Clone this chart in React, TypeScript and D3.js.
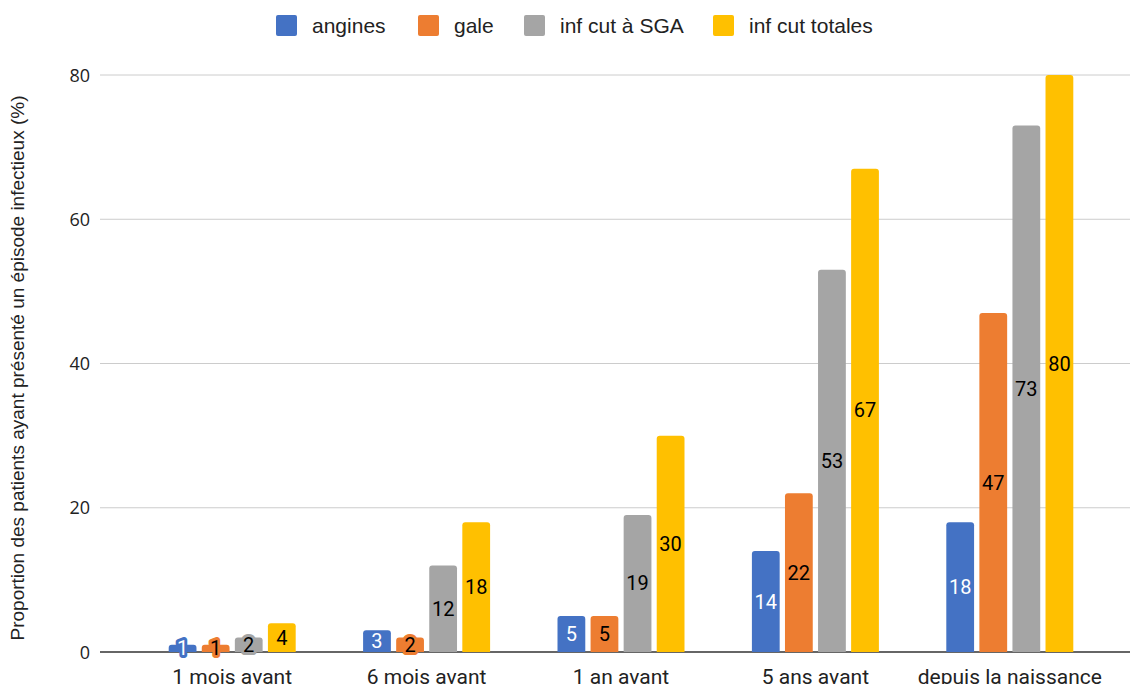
import React from "react";
import * as d3 from "d3";

const categories = ["1 mois avant", "6 mois avant", "1 an avant", "5 ans avant", "depuis la naissance"];
const seriesNames = ["angines", "gale", "inf cut à SGA", "inf cut totales"];
const angines = [1, 3, 5, 14, 18];
const gale = [1, 2, 5, 22, 47];
const infCutSGA = [2, 12, 19, 53, 73];
const infCutTotales = [4, 18, 30, 67, 80];
const yTicks = [0, 20, 40, 60, 80];
const colors = ["#4472c4", "#ed7d31", "#a5a5a5", "#ffc000"];
const labelColors = ["#ffffff", "#000000", "#000000", "#000000"];
const legendX = [276, 418, 524, 713];

const W = 1130, H = 684;

export default function App() {
  const series = [angines, gale, infCutSGA, infCutTotales];
  const x = d3.scaleBand<string>().domain(categories).range([135, 1107]).paddingInner(0).paddingOuter(0);
  const y = d3.scaleLinear().domain([0, 80]).range([652, 75]);
  const inner = d3.scaleBand<number>().domain([0, 1, 2, 3]).range([0, 127]).paddingInner(0.16);
  const bw = inner.bandwidth();
  const r = 3;
  const barPath = (x0: number, y0: number, w: number, h: number) => {
    const rr = Math.min(r, h / 2, w / 2);
    return `M${x0},${y0 + h}V${y0 + rr}Q${x0},${y0} ${x0 + rr},${y0}H${x0 + w - rr}Q${x0 + w},${y0} ${x0 + w},${y0 + rr}V${y0 + h}Z`;
  };
  return (
    <svg width={W} height={H} style={{ position: "absolute", left: 0, top: 0, background: "#fff" }}>
      {/* legend */}
      {seriesNames.map((n, i) => (
        <g key={n}>
          <rect x={legendX[i]} y={15} width={21} height={21} rx={2} fill={colors[i]} />
          <text x={legendX[i] + 36} y={33} fontFamily="Liberation Sans, Arial, sans-serif" fontSize={21} fill="#222">{n}</text>
        </g>
      ))}
      {/* gridlines */}
      {yTicks.map((t) => (
        <g key={t}>
          <line x1={100} x2={1130} y1={y(t)} y2={y(t)} stroke={t === 0 ? "#333" : "#cccccc"} strokeWidth={t === 0 ? 1.5 : 1} />
          <text x={90} y={y(t) + 6.5} textAnchor="end" fontFamily="Open Sans, sans-serif" fontSize={18} fill="#222">{t}</text>
        </g>
      ))}
      <text transform={`translate(24,368) rotate(-90)`} textAnchor="middle" fontFamily="Liberation Sans, Arial, sans-serif" fontSize={19} fill="#222">
        Proportion des patients ayant présenté un épisode infectieux (%)
      </text>
      {/* bars */}
      {categories.map((c, ci) => {
        const gx = (x(c) as number) + x.bandwidth() / 2 - 127 / 2;
        return (
          <g key={c}>
            {series.map((s, si) => {
              const v = s[ci];
              const bx = gx + (inner(si) as number);
              const by = y(v);
              const h = y(0) - by;
              return <path key={si} d={barPath(bx, by, bw, h)} fill={colors[si]} />;
            })}
            {series.map((s, si) => {
              const v = s[ci];
              const bx = gx + (inner(si) as number) + bw / 2;
              const cy = (y(v) + y(0)) / 2;
              return (
                <text key={"l" + si} x={bx} y={cy + 7} textAnchor="middle" fontFamily="Roboto, sans-serif" fontSize={20}
                  fill={labelColors[si]} stroke={colors[si]} strokeWidth={v < 3 ? 6 : 0} strokeLinejoin="round" style={{ paintOrder: "stroke" }}>
                  {v}
                </text>
              );
            })}
            <text x={(x(c) as number) + x.bandwidth() / 2} y={684} textAnchor="middle" fontFamily="Roboto, sans-serif" fontSize={21} fill="#222">{c}</text>
          </g>
        );
      })}
    </svg>
  );
}
